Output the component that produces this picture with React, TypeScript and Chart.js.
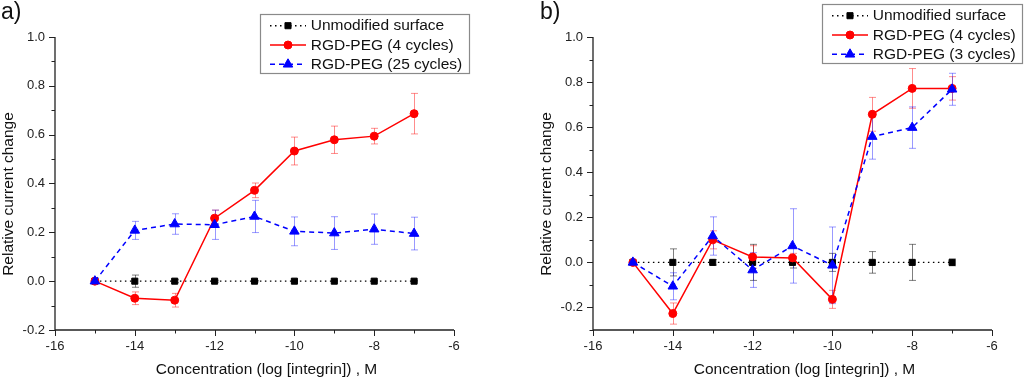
import React, { useEffect, useRef } from "react";
import { Chart, registerables } from "chart.js";

Chart.register(...registerables);

// ---------- data ----------
const concentrations = [-15, -14, -13, -12, -11, -10, -9, -8, -7];
const xTickValues = [-16, -15, -14, -13, -12, -11, -10, -9, -8, -7, -6];
const yTickValuesA = [-0.2, -0.1, 0, 0.1, 0.2, 0.3, 0.4, 0.5, 0.6, 0.7, 0.8, 0.9, 1.0];
const yTickValuesB = [-0.3, -0.2, -0.1, 0, 0.1, 0.2, 0.3, 0.4, 0.5, 0.6, 0.7, 0.8, 0.9, 1.0];

const seriesNamesA = ["Unmodified surface", "RGD-PEG (4 cycles)", "RGD-PEG (25 cycles)"];
const seriesNamesB = ["Unmodified surface", "RGD-PEG (4 cycles)", "RGD-PEG (3 cycles)"];

// Panel a)
const aUnmodified = [0, 0, 0, 0, 0, 0, 0, 0, 0];
const aUnmodifiedErr = [0, 0.025, 0.006, 0.004, 0.003, 0.003, 0.003, 0.003, 0.003];
const aRgd4 = [0, -0.07, -0.078, 0.258, 0.372, 0.533, 0.579, 0.594, 0.686];
const aRgd4Err = [0, 0.026, 0.028, 0.033, 0.03, 0.057, 0.056, 0.032, 0.083];
const aRgd25 = [0, 0.208, 0.234, 0.231, 0.265, 0.204, 0.197, 0.213, 0.195];
const aRgd25Err = [0, 0.037, 0.042, 0.06, 0.066, 0.059, 0.067, 0.062, 0.067];

// Panel b)
const bUnmodified = [0, 0, 0, 0, 0, 0, 0, 0, 0];
const bUnmodifiedErr = [0, 0.06, 0.012, 0.08, 0.025, 0.04, 0.048, 0.08, 0.015];
const bRgd4 = [0, -0.227, 0.1, 0.024, 0.02, -0.164, 0.657, 0.772, 0.772];
const bRgd4Err = [0, 0.047, 0.04, 0.05, 0.02, 0.04, 0.075, 0.088, 0.052];
const bRgd3 = [0, -0.106, 0.117, -0.034, 0.073, -0.013, 0.558, 0.598, 0.768];
const bRgd3Err = [0, 0.06, 0.085, 0.077, 0.165, 0.17, 0.1, 0.092, 0.071];

const xTitle = "Concentration (log [integrin]) , M";
const yTitle = "Relative current change";

// ---------- styles ----------
const FONT = "'Liberation Sans', Arial, Helvetica, sans-serif";

type SeriesStyle = {
  color: string;
  errColor: string;
  dash: number[];
  pointStyle: "rect" | "circle" | "triangle";
  radius: number;
  width: number;
};

const seriesStyles: SeriesStyle[] = [
  { color: "#000000", errColor: "rgba(0,0,0,0.5)", dash: [1.5, 3.5], pointStyle: "rect", radius: 4.3, width: 1.4 },
  { color: "#ff0000", errColor: "rgba(255,0,0,0.45)", dash: [], pointStyle: "circle", radius: 4, width: 1.5 },
  { color: "#0000ff", errColor: "rgba(0,0,255,0.4)", dash: [5, 4], pointStyle: "triangle", radius: 5.5, width: 1.5 },
];

type Panel = {
  tag: string;
  tagX: number;
  names: string[];
  values: number[][];
  errors: number[][];
  yMin: number;
  yMax: number;
  yTicks: number[];
  padLeft: number;
  padRight: number;
  yAxisWidth: number;
  legend: { x: number; y: number; w: number; h: number };
};

const panels: Panel[] = [
  {
    tag: "a)",
    tagX: 1,
    names: seriesNamesA,
    values: [aUnmodified, aRgd4, aRgd25],
    errors: [aUnmodifiedErr, aRgd4Err, aRgd25Err],
    yMin: -0.2,
    yMax: 1.0,
    yTicks: yTickValuesA,
    padLeft: 0,
    padRight: 58,
    yAxisWidth: 55,
    legend: { x: 260, y: 14, w: 209, h: 59 },
  },
  {
    tag: "b)",
    tagX: 28,
    names: seriesNamesB,
    values: [bUnmodified, bRgd4, bRgd3],
    errors: [bUnmodifiedErr, bRgd4Err, bRgd3Err],
    yMin: -0.3,
    yMax: 1.0,
    yTicks: yTickValuesB,
    padLeft: 26,
    padRight: 32,
    yAxisWidth: 55,
    legend: { x: 310, y: 4, w: 200, h: 59 },
  },
];

function drawMarker(ctx: CanvasRenderingContext2D, style: SeriesStyle, x: number, y: number) {
  const r = style.radius;
  ctx.save();
  ctx.setLineDash([]);
  ctx.fillStyle = style.color;
  ctx.strokeStyle = style.color;
  ctx.lineWidth = 1;
  ctx.beginPath();
  if (style.pointStyle === "rect") {
    const s = r * Math.SQRT1_2;
    ctx.rect(x - s, y - s, 2 * s, 2 * s);
  } else if (style.pointStyle === "circle") {
    ctx.arc(x, y, r, 0, Math.PI * 2);
  } else {
    ctx.moveTo(x, y - r);
    ctx.lineTo(x + 0.866 * r, y + 0.5 * r);
    ctx.lineTo(x - 0.866 * r, y + 0.5 * r);
    ctx.closePath();
  }
  ctx.fill();
  ctx.stroke();
  ctx.restore();
}

function makeDecor(panel: Panel) {
  return {
    id: "decor",
    beforeDatasetsDraw(chart: any) {
      const ctx: CanvasRenderingContext2D = chart.ctx;
      const xs = chart.scales.x;
      const ys = chart.scales.y;
      ctx.save();
      ctx.setLineDash([]);
      ctx.lineWidth = 1;
      panel.values.forEach((vals, i) => {
        ctx.strokeStyle = seriesStyles[i].errColor;
        vals.forEach((v, j) => {
          const e = panel.errors[i][j];
          if (!e) return;
          const px = Math.round(xs.getPixelForValue(concentrations[j])) + 0.5;
          const yt = ys.getPixelForValue(v + e);
          const yb = ys.getPixelForValue(v - e);
          ctx.beginPath();
          ctx.moveTo(px, yt);
          ctx.lineTo(px, yb);
          ctx.moveTo(px - 3.5, yt);
          ctx.lineTo(px + 3.5, yt);
          ctx.moveTo(px - 3.5, yb);
          ctx.lineTo(px + 3.5, yb);
          ctx.stroke();
        });
      });
      ctx.restore();
    },
    afterDraw(chart: any) {
      const ctx: CanvasRenderingContext2D = chart.ctx;
      const { left, right, top, bottom } = chart.chartArea;
      const xs = chart.scales.x;
      const ys = chart.scales.y;
      ctx.save();
      ctx.setLineDash([]);
      // axes lines
      ctx.strokeStyle = "#222";
      ctx.lineWidth = 1.3;
      ctx.beginPath();
      ctx.moveTo(left, top);
      ctx.lineTo(left, bottom);
      ctx.lineTo(right, bottom);
      ctx.stroke();
      // ticks
      ctx.lineWidth = 1;
      ctx.beginPath();
      xs.ticks.forEach((t: any) => {
        const px = Math.round(xs.getPixelForValue(t.value)) + 0.5;
        const major = Math.round(t.value) % 2 === 0;
        ctx.moveTo(px, bottom);
        ctx.lineTo(px, bottom + (major ? 6 : 3.5));
      });
      ys.ticks.forEach((t: any) => {
        const py = Math.round(ys.getPixelForValue(t.value)) + 0.5;
        const major = Math.round(t.value * 10) % 2 === 0;
        ctx.moveTo(left, py);
        ctx.lineTo(left - (major ? 6 : 3.5), py);
      });
      ctx.stroke();

      // axis titles
      ctx.fillStyle = "#111";
      ctx.font = `15.5px ${FONT}`;
      ctx.textAlign = "center";
      ctx.textBaseline = "middle";
      ctx.fillText(xTitle, (left + right) / 2 + 12, 370);
      ctx.save();
      ctx.translate(left - 46.5, 194);
      ctx.rotate(-Math.PI / 2);
      ctx.fillText(yTitle, 0, 0);
      ctx.restore();

      // panel tag
      ctx.font = `23px ${FONT}`;
      ctx.textAlign = "left";
      ctx.textBaseline = "alphabetic";
      ctx.fillText(panel.tag, panel.tagX, 19);

      // legend
      const L = panel.legend;
      ctx.fillStyle = "#fff";
      ctx.fillRect(L.x, L.y, L.w, L.h);
      ctx.strokeStyle = "#8a8a8a";
      ctx.lineWidth = 1.2;
      ctx.strokeRect(L.x + 0.5, L.y + 0.5, L.w, L.h);
      ctx.font = `15.5px ${FONT}`;
      ctx.textBaseline = "middle";
      panel.names.forEach((name, i) => {
        const st = seriesStyles[i];
        const ry = L.y + 11.7 + i * 19.3;
        ctx.save();
        ctx.strokeStyle = st.color;
        ctx.lineWidth = st.width;
        ctx.setLineDash(st.dash);
        ctx.beginPath();
        ctx.moveTo(L.x + 10, ry);
        ctx.lineTo(L.x + 46, ry);
        ctx.stroke();
        ctx.restore();
        drawMarker(ctx, st, L.x + 28, ry);
        ctx.fillStyle = "#111";
        ctx.fillText(name, L.x + 50.7, ry + 0.5);
      });
      ctx.restore();
    },
  };
}

function PanelChart({ panel }: { panel: Panel }) {
  const ref = useRef<HTMLCanvasElement>(null);
  useEffect(() => {
    if (!ref.current) return;
    const datasets = panel.values.map((vals, i) => {
      const st = seriesStyles[i];
      return {
        label: panel.names[i],
        data: concentrations.map((x, j) => ({ x, y: vals[j] })),
        borderColor: st.color,
        backgroundColor: st.color,
        borderWidth: st.width,
        borderDash: st.dash,
        pointStyle: st.pointStyle,
        pointRadius: st.radius,
        pointBorderWidth: 1,
        pointBackgroundColor: st.color,
        pointBorderColor: st.color,
        tension: 0,
        fill: false,
        order: 3 - i,
      };
    });
    const chart = new Chart(ref.current, {
      type: "line",
      data: { datasets },
      options: {
        responsive: false,
        animation: false,
        layout: { padding: { left: panel.padLeft, right: panel.padRight, top: 37, bottom: 0 } },
        plugins: { legend: { display: false }, tooltip: { enabled: false }, title: { display: false } },
        scales: {
          x: {
            type: "linear",
            min: -16,
            max: -6,
            afterBuildTicks: (s: any) => {
              s.ticks = xTickValues.map((v) => ({ value: v }));
            },
            afterFit: (s: any) => {
              s.height = 50;
            },
            grid: { display: false, drawTicks: false },
            border: { display: false },
            ticks: {
              autoSkip: false,
              maxRotation: 0,
              padding: 9,
              color: "#222",
              font: { family: FONT, size: 13 },
              callback: (v: any) => (Math.round(v) % 2 === 0 ? String(v) : ""),
            },
          },
          y: {
            type: "linear",
            min: panel.yMin,
            max: panel.yMax,
            afterBuildTicks: (s: any) => {
              s.ticks = panel.yTicks.map((v) => ({ value: v }));
            },
            afterFit: (s: any) => {
              s.width = panel.yAxisWidth;
            },
            grid: { display: false, drawTicks: false },
            border: { display: false },
            ticks: {
              autoSkip: false,
              padding: 10,
              color: "#222",
              font: { family: FONT, size: 13 },
              callback: (v: any) => {
                const k = Math.round(v * 10);
                return k % 2 === 0 ? (k / 10).toFixed(1) : "";
              },
            },
          },
        },
      },
      plugins: [makeDecor(panel)],
    } as any);
    return () => chart.destroy();
  }, [panel]);
  return <canvas ref={ref} width={512} height={380} style={{ display: "block", width: 512, height: 380 }} />;
}

export default function App() {
  return (
    <div
      style={{
        position: "absolute",
        left: 0,
        top: 0,
        width: 1024,
        height: 380,
        display: "flex",
        background: "#fff",
      }}
    >
      {panels.map((p) => (
        <PanelChart key={p.tag} panel={p} />
      ))}
    </div>
  );
}
